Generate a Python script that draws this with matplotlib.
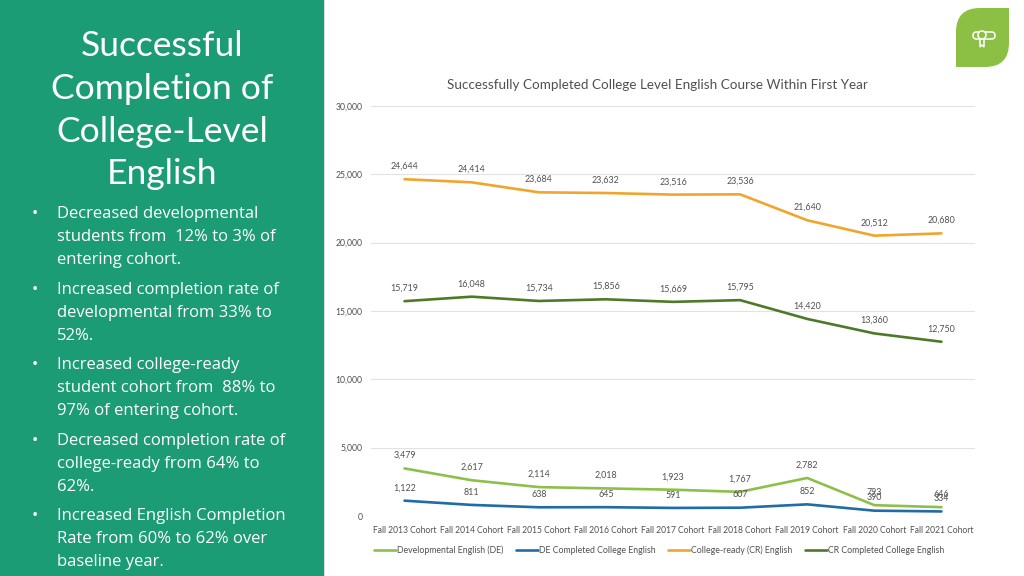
import matplotlib
matplotlib.use("Agg")
import matplotlib.pyplot as plt
from matplotlib.path import Path
from matplotlib.patches import PathPatch, Rectangle, Circle, FancyBboxPatch
from matplotlib.transforms import Affine2D

categories = ["Fall 2013 Cohort", "Fall 2014 Cohort", "Fall 2015 Cohort", "Fall 2016 Cohort",
              "Fall 2017 Cohort", "Fall 2018 Cohort", "Fall 2019 Cohort", "Fall 2020 Cohort",
              "Fall 2021 Cohort"]
developmental = [3479, 2617, 2114, 2018, 1923, 1767, 2782, 793, 646]
de_completed = [1122, 811, 638, 645, 591, 607, 852, 390, 334]
college_ready = [24644, 24414, 23684, 23632, 23516, 23536, 21640, 20512, 20680]
cr_completed = [15719, 16048, 15734, 15856, 15669, 15795, 14420, 13360, 12750]
series_names = ["Developmental English (DE)", "DE Completed College English",
                "College-ready (CR) English", "CR Completed College English"]
y_ticks = [0, 5000, 10000, 15000, 20000, 25000, 30000]
chart_title = "Successfully Completed College Level English Course Within First Year"
heading = ["Successful", "Completion of", "College-Level", "English"]
bullets = [
    ["Decreased developmental", "students from  12% to 3% of", "entering cohort."],
    ["Increased completion rate of", "developmental from 33% to", "52%."],
    ["Increased college-ready", "student cohort from  88% to", "97% of entering cohort."],
    ["Decreased completion rate of", "college-ready from 64% to", "62%."],
    ["Increased English Completion", "Rate from 60% to 62% over", "baseline year."],
]

W, H = 1024, 576
fig = plt.figure(figsize=(W / 100, H / 100), dpi=100, facecolor="white")
px = Affine2D().scale(1 / W, -1 / H).translate(0, 1) + fig.transFigure

# Left panel
fig.patches.append(Rectangle((0, 0), 324, 576, transform=px, facecolor="#1C9C74", edgecolor="none"))
fig.patches.append(Rectangle((324, 0), 1.2, 576, transform=px, facecolor="#D5DDDA", edgecolor="none"))

for text, y in zip(heading, [46, 89, 132, 174]):
    fig.text(162, y, text, transform=px, color="white", fontsize=25.5, family="Lato",
             ha="center", va="center")

line_ys = [214, 237, 260, 290, 313, 336, 365, 388, 411, 441, 464, 487, 516, 539, 562]
i = 0
for block in bullets:
    fig.text(35, line_ys[i], "•", transform=px, color="white", fontsize=12, family="Open Sans",
             ha="center", va="center")
    for line in block:
        fig.text(57, line_ys[i], line, transform=px, color="white", fontsize=12.0, family="Open Sans",
                 ha="left", va="center")
        i += 1

# Leaf badge
r = 24
x0, x1, y0, y1 = 956, 1009, 8, 67
leaf = Path([(x0 + r, y0), (x1, y0), (x1, y1 - r), (x1, y1), (x1 - r, y1), (x0, y1), (x0, y0 + r),
             (x0, y0), (x0 + r, y0)],
            [Path.MOVETO, Path.LINETO, Path.LINETO, Path.CURVE3, Path.CURVE3, Path.LINETO, Path.LINETO,
             Path.CURVE3, Path.CURVE3])
fig.patches.append(PathPatch(leaf, transform=px, facecolor="#8CC044", edgecolor="none"))
fig.patches.append(FancyBboxPatch((973, 32), 22, 7, boxstyle="round,pad=0,rounding_size=3.5", transform=px,
                                  facecolor="none", edgecolor="white", lw=1.1))
fig.patches.append(Circle((982, 35), 4, transform=px, facecolor="#8CC044", edgecolor="white", lw=1.1))
ribbon = Path([(980, 39), (980, 47), (982, 45), (984, 47), (984, 39)])
fig.patches.append(PathPatch(ribbon, transform=px, facecolor="none", edgecolor="white", lw=1.1))

# Chart
ax = fig.add_axes([371 / W, 1 - 516 / H, (975 - 371) / W, (516 - 106) / H])
ax.set_facecolor("none")
x = list(range(len(categories)))
styles = [(developmental, "#8DC04B"), (de_completed, "#1F6CA6"),
          (college_ready, "#F0A52C"), (cr_completed, "#4E7A28")]
for (vals, color), name in zip(styles, series_names):
    ax.plot(x, vals, color=color, lw=1.9, label=name, solid_capstyle="round", zorder=3)
    for xi, v in zip(x, vals):
        ax.annotate(f"{v:,}", (xi, v), xytext=(0, 9.2), textcoords="offset points", ha="center",
                    va="center", fontsize=6.4, color="#505050", family="Lato", zorder=4)

ax.set_xlim(-0.5, len(categories) - 0.5)
ax.set_ylim(0, 30000)
ax.set_yticks(y_ticks)
ax.set_yticklabels([f"{t:,}" for t in y_ticks], fontsize=6.2, color="#505050", family="Lato")
ax.set_xticks(x)
ax.set_xticklabels(categories, fontsize=6.15, color="#505050", family="Lato")
ax.tick_params(length=0, axis="both")
ax.tick_params(axis="x", pad=7.5)
ax.tick_params(axis="y", pad=6)
ax.grid(axis="y", color="#E2E2E2", lw=0.8)
ax.set_axisbelow(True)
for s in ax.spines.values():
    s.set_visible(False)

fig.text(657, 85, chart_title, transform=px, fontsize=9.75, color="#505050", family="Lato",
         ha="center", va="center")

leg = ax.legend(loc="center", bbox_to_anchor=(659 / W, 1 - 550 / H), bbox_transform=fig.transFigure,
                ncol=4, frameon=False, prop={"family": "Lato", "size": 6.3}, labelcolor="#505050",
                handlelength=2.5, handletextpad=0.1, columnspacing=1.45, borderpad=0)

fig.savefig("out.png", dpi=100)
